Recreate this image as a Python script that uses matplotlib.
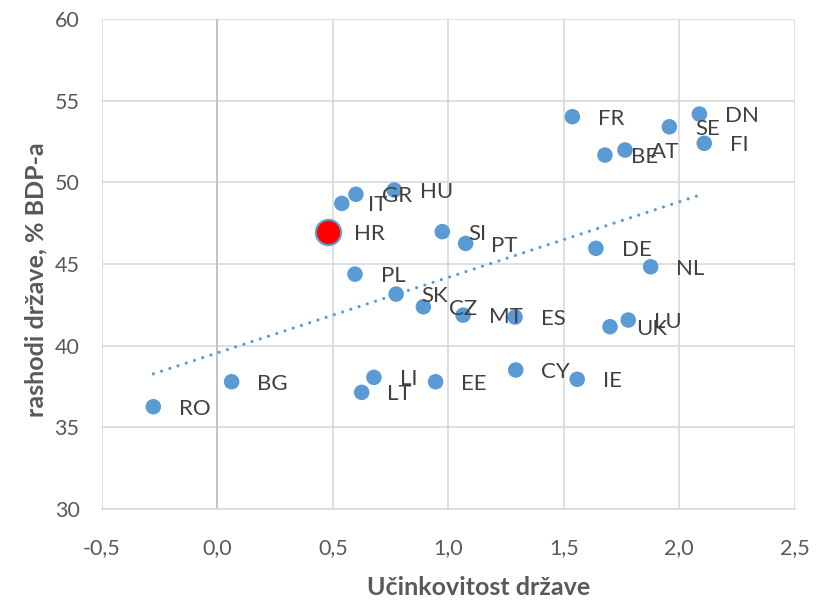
import numpy as np
import matplotlib
matplotlib.use('Agg')
import matplotlib.pyplot as plt

plt.rcParams['font.family'] = ['Lato', 'DejaVu Sans']

# country codes and values
countries = ['RO', 'BG', 'LT', 'LI', 'EE', 'CY', 'IE', 'SK', 'CZ', 'MT', 'ES',
             'PL', 'HR', 'IT', 'GR', 'HU', 'SI', 'PT', 'DE', 'NL', 'UK', 'LU',
             'FR', 'BE', 'AT', 'SE', 'DN', 'FI']
efficiency = [-0.277, 0.062, 0.625, 0.678, 0.945, 1.292, 1.558, 0.774, 0.892, 1.064, 1.289,
              0.596, 0.481, 0.539, 0.600, 0.766, 0.974, 1.075, 1.639, 1.876, 1.700, 1.779,
              1.537, 1.678, 1.765, 1.957, 2.087, 2.108]
spending = [36.26, 37.79, 37.14, 38.06, 37.79, 38.51, 37.94, 43.16, 42.38, 41.87, 41.75,
            44.38, 46.94, 48.71, 49.27, 49.53, 46.98, 46.26, 45.96, 44.83, 41.16, 41.57,
            54.02, 51.67, 51.98, 53.40, 54.18, 52.39]
highlight = 'HR'

x_ticks = [-0.5, 0.0, 0.5, 1.0, 1.5, 2.0, 2.5]
y_ticks = [30, 35, 40, 45, 50, 55, 60]

blue = '#5B9BD5'
grey_text = '#595959'

fig = plt.figure(figsize=(8.25, 6), dpi=100)
ax = fig.add_axes([0.1234, 0.1517, 0.8400, 0.8166])

ax.set_xlim(-0.5, 2.5)
ax.set_ylim(30, 60)
ax.set_xticks(x_ticks)
ax.set_yticks(y_ticks)
ax.set_xticklabels([('%.1f' % t).replace('.', ',') for t in x_ticks])
ax.set_yticklabels([str(t) for t in y_ticks])

ax.grid(True, color='#D9D9D9', linewidth=1.2, zorder=0)
ax.set_axisbelow(True)
for side in ['top', 'right', 'left']:
    ax.spines[side].set_visible(False)
ax.spines['bottom'].set_color('#D9D9D9')
ax.spines['bottom'].set_linewidth(1.2)
ax.axvline(0, color='#BFBFBF', linewidth=1.2, zorder=1)
ax.tick_params(length=0, labelsize=15.5, labelcolor=grey_text)
ax.tick_params(axis='x', pad=21)
ax.tick_params(axis='y', pad=16)

x = np.array(efficiency)
y = np.array(spending)
is_hr = np.array([c == highlight for c in countries])

# linear trend line (dotted)
slope, intercept = np.polyfit(x, y, 1)
xs = np.array([x.min(), x.max() - 0.03])
ax.plot(xs, slope * xs + intercept, linestyle=(0, (0.01, 2.7)), color=blue,
        linewidth=2.3, dash_capstyle='round', zorder=2)

ax.scatter(x[~is_hr], y[~is_hr], s=125, color=blue, edgecolors='none', zorder=3)
ax.scatter(x[is_hr], y[is_hr], s=330, color='#FF0000', edgecolors=blue,
           linewidths=1.5, zorder=3)

for c, xi, yi in zip(countries, x, y):
    ax.annotate(c, (xi, yi), xytext=(18.5, -1.5), textcoords='offset points',
                ha='left', va='center', fontsize=16, color='#404040', zorder=4)

ax.set_xlabel('Učinkovitost države', fontsize=18, fontweight='bold',
              color=grey_text, va='center')
ax.xaxis.set_label_coords(0.543, -0.161)
ax.set_ylabel('rashodi države, % BDP-a', fontsize=18, fontweight='bold',
              color=grey_text, va='center')
ax.yaxis.set_label_coords(-0.095, 0.467)

fig.savefig('out.png', dpi=100, facecolor='white')
